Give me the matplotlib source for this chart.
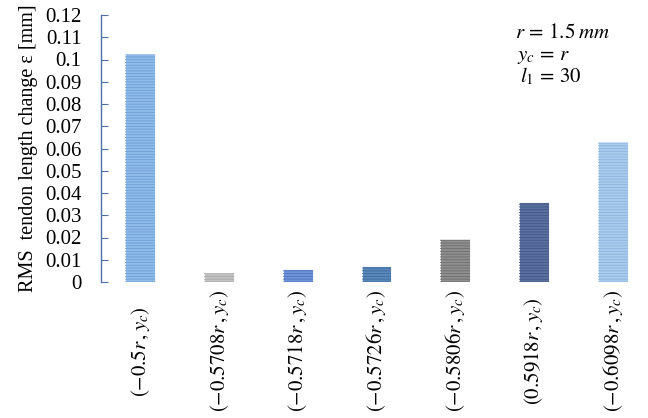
import matplotlib.pyplot as plt
import numpy as np

# RMS tendon length change for each anchor position
posiciones = [r'$(-0.5r\,,y_c)$', r'$(-0.5708r\,,y_c)$', r'$(-0.5718r\,,y_c)$',
              r'$(-0.5726r\,,y_c)$', r'$(-0.5806r\,,y_c)$', r'$(0.5918r\,,y_c)$',
              r'$(-0.6098r\,,y_c)$']
rms = [0.1025, 0.0042, 0.0057, 0.0070, 0.0192, 0.0360, 0.0628]
colores = ['#8fbbe9', '#c2c2c2', '#6f93d8', '#5b88bb', '#8e8e8e', '#5c70a0', '#a9cbec']
rayas = ['#6f9fd8', '#a8a8a8', '#5275bd', '#3f6c9f', '#6e6e6e', '#425688', '#8cb4e0']
yticks = [0, 0.01, 0.02, 0.03, 0.04, 0.05, 0.06, 0.07, 0.08, 0.09, 0.1, 0.11, 0.12]
ytexto = ['0', '0.01', '0.02', '0.03', '0.04', '0.05', '0.06', '0.07',
          '0.08', '0.09', '0.1', '0.11', '0.12']

plt.rcParams['font.family'] = ['Liberation Serif', 'DejaVu Serif']
plt.rcParams['mathtext.fontset'] = 'stix'
plt.rcParams['hatch.linewidth'] = 0.6

fig = plt.figure(figsize=(6.48, 4.18), dpi=100)
ax = fig.add_axes([101/648, 136/418, 551/648, 267/418])

# barras con rayado horizontal
x = np.arange(len(rms))
ax.bar(x, rms, width=0.38, color=colores, edgecolor='white', linewidth=0.6)
for xi, v, c in zip(x, rms, rayas):
    ax.bar(xi, v, width=0.38, fill=False, hatch='------', edgecolor=c, linewidth=0)

ax.set_xlim(-0.5, 6.5)
ax.set_ylim(0, 0.12)
ax.set_yticks(yticks)
ax.set_yticklabels(ytexto, fontsize=15)
ax.set_xticks(x)
ax.set_xticklabels(posiciones, rotation=90, fontsize=15, va='center')
ax.tick_params(axis='x', length=0, pad=50)
ax.tick_params(axis='y', direction='in', length=5, color='#4f6fa8', pad=14)

for lado in ['top', 'right', 'bottom']:
    ax.spines[lado].set_visible(False)
ax.spines['left'].set_color('#4f6fa8')
ax.spines['left'].set_linewidth(1.0)

ax.set_ylabel('RMS  tendon length change ε [mm]', fontsize=14.5, labelpad=5)

fig.text(515/648, 0.909, r'$r\,=\,1.5\;mm$', fontsize=15, va='baseline')
fig.text(517/648, 0.856, r'$y_c\,=\,r$', fontsize=15, va='baseline')
fig.text(520/648, 0.804, r'$l_1\,=\,30$', fontsize=15, va='baseline')

plt.savefig('out.png', dpi=100)
plt.close()
